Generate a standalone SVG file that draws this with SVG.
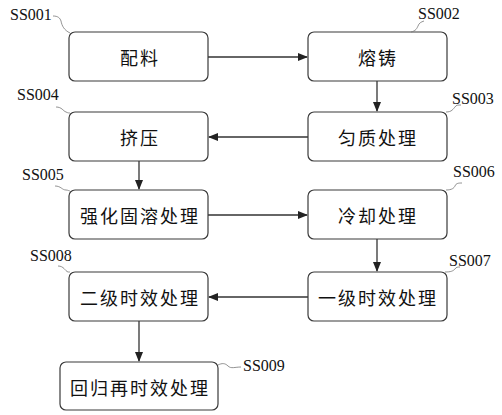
<svg xmlns="http://www.w3.org/2000/svg" width="502" height="415" viewBox="0 0 502 415">
<style>
.box{fill:#fff;stroke:#3a3a3a;stroke-width:1.2}
.t{font-family:"Noto Sans CJK SC","Noto Sans CJK JP",sans-serif;font-size:18px;letter-spacing:2px;text-anchor:middle;dominant-baseline:central;fill:#111}
.lb{font-family:"Liberation Serif",serif;font-size:16px;fill:#111}
.ld{fill:none;stroke:#777;stroke-width:0.8}
.c{fill:none;stroke:#333;stroke-width:1.3;marker-end:url(#ah)}
</style>
<defs>
<marker id="ah" markerWidth="10" markerHeight="8" refX="9" refY="4" orient="auto" markerUnits="userSpaceOnUse">
<path d="M0,0 L10,4 L0,8 Z" fill="#222"/>
</marker>
</defs>
<rect width="502" height="415" fill="#fff"/>
<g id="connectors">
<path class="c" d="M208,57 H307"/>
<path class="c" d="M377,81 V111"/>
<path class="c" d="M308,137 H209"/>
<path class="c" d="M139,161 V189"/>
<path class="c" d="M208,215 H307"/>
<path class="c" d="M377,239 V271"/>
<path class="c" d="M308,297 H209"/>
<path class="c" d="M139,321 V361"/>
</g>
<g id="n1"><rect class="box" x="69" y="32" width="139" height="49" rx="6"/><text class="t" x="140" y="57">配料</text>
<path class="ld" d="M53,16 C58,16 60,18 61,21 C62,26 64,30 70,33"/><text class="lb" x="10" y="20">SS001</text></g>
<g id="n2"><rect class="box" x="308" y="32" width="139" height="49" rx="6"/><text class="t" x="378" y="57">熔铸</text>
<path class="ld" d="M411,32 C416,31 417,28 418,26 C419,23 421,22 424,21"/><text class="lb" x="418" y="19">SS002</text></g>
<g id="n3"><rect class="box" x="308" y="112" width="139" height="49" rx="6"/><text class="t" x="378" y="137">匀质处理</text>
<path class="ld" d="M446,112 C452,112 453,109 455,107 C456,105 458,105 461,105"/><text class="lb" x="452" y="104">SS003</text></g>
<g id="n4"><rect class="box" x="69" y="112" width="139" height="49" rx="6"/><text class="t" x="140" y="137">挤压</text>
<path class="ld" d="M56,107 C62,107 63,111 66,112 C68,113 69,113 70,113"/><text class="lb" x="17" y="100">SS004</text></g>
<g id="n5"><rect class="box" x="69" y="190" width="139" height="49" rx="6"/><text class="t" x="140" y="215">强化固溶处理</text>
<path class="ld" d="M55,186 C61,186 62,190 66,190 C68,190 69,191 70,191"/><text class="lb" x="22" y="180">SS005</text></g>
<g id="n6"><rect class="box" x="308" y="190" width="139" height="49" rx="6"/><text class="t" x="378" y="215">冷却处理</text>
<path class="ld" d="M446,190 C452,190 454,188 455,186 C456,183 459,183 462,183"/><text class="lb" x="453" y="177">SS006</text></g>
<g id="n7"><rect class="box" x="308" y="272" width="139" height="49" rx="6"/><text class="t" x="378" y="297">一级时效处理</text>
<path class="ld" d="M445,272 C451,272 453,271 455,269 C456,267 458,267 460,267"/><text class="lb" x="449" y="266">SS007</text></g>
<g id="n8"><rect class="box" x="69" y="272" width="139" height="49" rx="6"/><text class="t" x="140" y="297">二级时效处理</text>
<path class="ld" d="M58,266 C64,266 65,271 68,272 C69,272 70,272 70,272"/><text class="lb" x="30" y="261">SS008</text></g>
<g id="n9"><rect class="box" x="60" y="362" width="158" height="48" rx="6"/><text class="t" x="140" y="387">回归再时效处理</text>
<path class="ld" d="M218,365 C222,363 225,363 228,366 C231,369 235,367 241,367"/><text class="lb" x="243" y="371">SS009</text></g>
</svg>
